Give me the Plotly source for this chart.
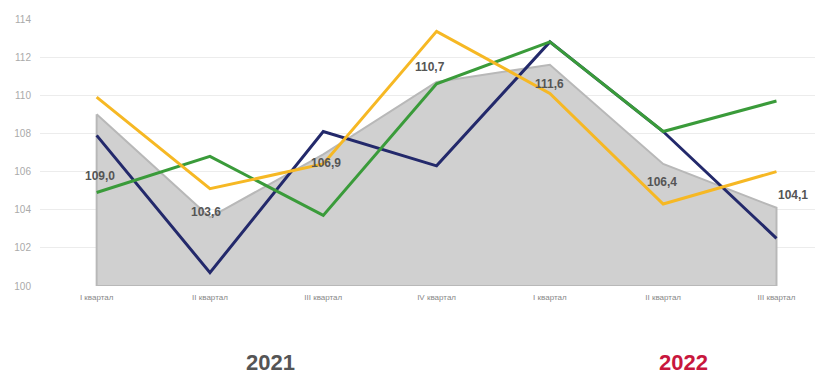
import plotly.graph_objects as go

quarters = ["I квартал", "II квартал", "III квартал", "IV квартал",
            "I  квартал", "II  квартал", "III  квартал"]
quarter_ticks = ["I квартал", "II квартал", "III квартал", "IV квартал",
                 "I квартал", "II квартал", "III квартал"]

total_index = [109.0, 103.6, 106.9, 110.7, 111.6, 106.4, 104.1]
navy_series = [107.9, 100.7, 108.1, 106.3, 112.8, 108.1, 102.5]
green_series = [104.9, 106.8, 103.7, 110.6, 112.8, 108.1, 109.7]
yellow_series = [109.9, 105.1, 106.4, 113.35, 110.1, 104.3, 106.0]

years = ["2021", "2022"]

y_min, y_max = 100, 114

# label offsets (pixels) for the value annotations on the grey area
label_dx = [3, -4, 3, -7, 0, -1, 17]
label_dy = [-62, 5, -9, 15, -19, -18, 13]

fig = go.Figure()

# grey area closed down to the axis base
fig.add_trace(go.Scatter(
    x=quarters + [quarters[-1], quarters[0], quarters[0]],
    y=total_index + [y_min, y_min, total_index[0]],
    fill="toself", fillcolor="#d0d0d0",
    line=dict(color="#b8b8b8", width=2),
    mode="lines", hoverinfo="skip", showlegend=False,
))

for vals, col in [(navy_series, "#23296b"),
                  (green_series, "#3a9b3a"),
                  (yellow_series, "#f6b824")]:
    fig.add_trace(go.Scatter(
        x=quarters, y=vals, mode="lines",
        line=dict(color=col, width=3), showlegend=False,
    ))

for q, v, dx, dy in zip(quarters, total_index, label_dx, label_dy):
    fig.add_annotation(
        x=q, y=v, text="<b>" + f"{v:.1f}".replace(".", ",") + "</b>",
        showarrow=False, xshift=dx, yshift=dy,
        font=dict(family="Liberation Sans, Arial", size=12, color="#555555"),
    )

for yr, xp, col in [(years[0], 0.297, "#555555"), (years[1], 0.83, "#c8173d")]:
    fig.add_annotation(
        x=xp, y=-0.285, xref="paper", yref="paper", text=f"<b>{yr}</b>",
        showarrow=False, xanchor="center", yanchor="middle",
        font=dict(family="Liberation Sans, Arial", size=22, color=col),
    )

fig.update_xaxes(
    type="category", range=[-0.5, 6.34],
    tickvals=quarters, ticktext=quarter_ticks,
    tickfont=dict(family="Liberation Sans, Arial", size=8, color="#888888"),
    showgrid=False, zeroline=False, showline=False, ticks="",
    ticklabelstandoff=5,
)
fig.update_yaxes(
    range=[y_min, y_max], dtick=2,
    tickfont=dict(family="Liberation Sans, Arial", size=10, color="#aaaaaa"),
    showgrid=True, gridcolor="#ececec", gridwidth=1,
    zeroline=False, showline=False, ticks="", ticklabelstandoff=8,
)

fig.update_layout(
    width=817, height=374,
    margin=dict(l=40, r=2, t=19, b=88),
    paper_bgcolor="white", plot_bgcolor="white",
)

fig.write_html("out.html")
